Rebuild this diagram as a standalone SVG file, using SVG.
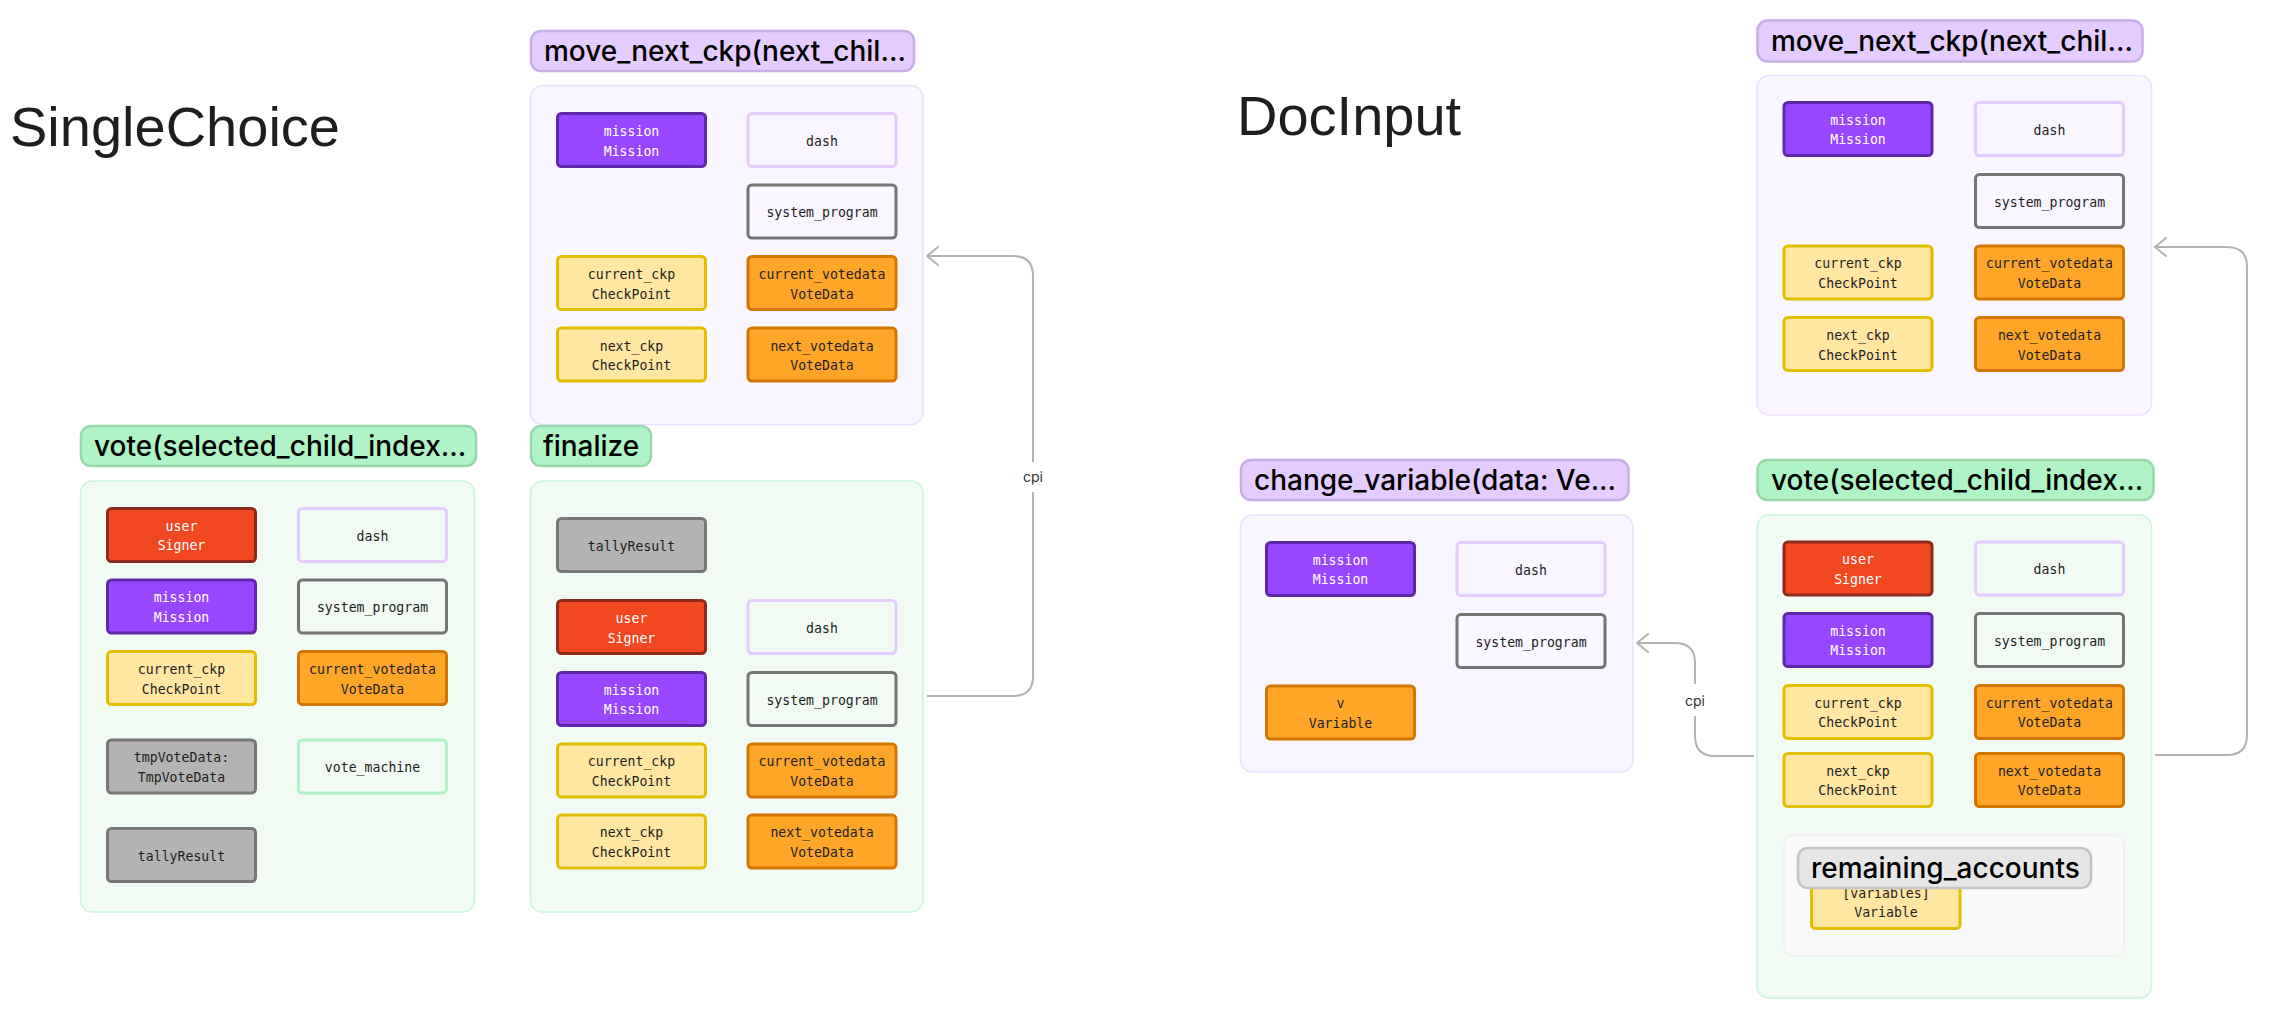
<svg xmlns="http://www.w3.org/2000/svg" width="2280" height="1026" viewBox="0 0 2280 1026">
<defs>
<style>
.title{font-family:"Liberation Sans",Arial,sans-serif;font-size:56px;fill:#1e1e1e}
.hg rect{fill:#AFF4C6;stroke:#96D8AC;stroke-width:2.5}
.hp rect{fill:#E4CCFF;stroke:#C8AEE6;stroke-width:2.5}
.hr rect{fill:#E6E6E6;stroke:#C4C4C4;stroke-width:2.5}
.ht{font-family:Inter,"Noto Sans",sans-serif;font-size:28px;font-weight:500;fill:#000}
.cg{fill:#F1FBF3;stroke:#C9F6D7;stroke-width:1.5}
.cp{fill:#F9F6FF;stroke:#EDE0FF;stroke-width:1.5}
.cr{fill:#F9F9F9;stroke:#EEEEEE;stroke-width:1.5}
.b rect{stroke-width:3}
.red rect{fill:#F24822;stroke:#8F2B1C}
.pur rect{fill:#9747FF;stroke:#5F28A8}
.yel rect{fill:#FFE6A1;stroke:#E2BE00}
.ora rect{fill:#FFA629;stroke:#D47500}
.gry rect{fill:#B3B3B3;stroke:#777777}
.lp rect{fill:none;stroke:#E4CCFF}
.sp rect{fill:none;stroke:#757575}
.lg rect{fill:none;stroke:#AFF4C6}
.b text{font-family:"DejaVu Sans Mono","Liberation Mono",monospace;font-size:13.2px;text-anchor:middle;fill:#1e1e1e}
.red text,.pur text{fill:#FFFFFF}
.conn path{fill:none;stroke:#B3B3B3;stroke-width:2}
.lbl{font-family:Inter,"Noto Sans",sans-serif;font-size:14px;fill:#333333;text-anchor:middle}
</style>
<marker id="arr" markerUnits="userSpaceOnUse" markerWidth="24" markerHeight="24" viewBox="-14 -12 16 24" refX="0" refY="0" orient="auto">
<path d="M-11,-9 L0,0 L-11,9" fill="none" stroke="#B3B3B3" stroke-width="2" stroke-linecap="round" stroke-linejoin="round"/>
</marker>
</defs>
<rect x="0" y="0" width="2280" height="1026" fill="#FFFFFF"/>

<text class="title" x="10" y="146">SingleChoice</text>
<text class="title" x="1237" y="135">DocInput</text>

<!-- ===== SingleChoice: move_next_ckp ===== -->
<g id="sc-move-header" class="hp"><rect x="531" y="31" width="383" height="40" rx="10"/><text class="ht" x="544" y="61">move_next_ckp(next_chil...</text></g>
<g id="sc-move">
<rect class="cp" x="530.5" y="85.5" width="392.5" height="339" rx="12"/>
<g id="sc-move-mission" class="b pur"><rect x="557.5" y="113.5" width="148" height="53" rx="4"/><text x="631.5" y="136">mission</text><text x="631.5" y="155.5">Mission</text></g>
<g id="sc-move-dash" class="b lp"><rect x="748" y="113.5" width="148" height="53" rx="4"/><text x="822" y="145.5">dash</text></g>
<g id="sc-move-system" class="b sp"><rect x="748" y="185" width="148" height="53" rx="4"/><text x="822" y="217">system_program</text></g>
<g id="sc-move-cckp" class="b yel"><rect x="557.5" y="256.5" width="148" height="53" rx="4"/><text x="631.5" y="279">current_ckp</text><text x="631.5" y="298.5">CheckPoint</text></g>
<g id="sc-move-cvd" class="b ora"><rect x="748" y="256.5" width="148" height="53" rx="4"/><text x="822" y="279">current_votedata</text><text x="822" y="298.5">VoteData</text></g>
<g id="sc-move-nckp" class="b yel"><rect x="557.5" y="328" width="148" height="53" rx="4"/><text x="631.5" y="350.5">next_ckp</text><text x="631.5" y="370">CheckPoint</text></g>
<g id="sc-move-nvd" class="b ora"><rect x="748" y="328" width="148" height="53" rx="4"/><text x="822" y="350.5">next_votedata</text><text x="822" y="370">VoteData</text></g>
</g>

<!-- ===== SingleChoice: vote ===== -->
<g id="sc-vote-header" class="hg"><rect x="81" y="426" width="395" height="40" rx="10"/><text class="ht" x="94" y="456">vote(selected_child_index...</text></g>
<g id="sc-vote">
<rect class="cg" x="80.5" y="481" width="394" height="431" rx="12"/>
<g id="sc-vote-user" class="b red"><rect x="107.5" y="508.5" width="148" height="53" rx="4"/><text x="181.5" y="530.7">user</text><text x="181.5" y="550.3">Signer</text></g>
<g id="sc-vote-dash" class="b lp"><rect x="298.5" y="508.5" width="148" height="53" rx="4"/><text x="372.5" y="540.5">dash</text></g>
<g id="sc-vote-mission" class="b pur"><rect x="107.5" y="580" width="148" height="53" rx="4"/><text x="181.5" y="602.3">mission</text><text x="181.5" y="621.8">Mission</text></g>
<g id="sc-vote-system" class="b sp"><rect x="298.5" y="580" width="148" height="53" rx="4"/><text x="372.5" y="612">system_program</text></g>
<g id="sc-vote-cckp" class="b yel"><rect x="107.5" y="651.5" width="148" height="53" rx="4"/><text x="181.5" y="674">current_ckp</text><text x="181.5" y="693.5">CheckPoint</text></g>
<g id="sc-vote-cvd" class="b ora"><rect x="298.5" y="651.5" width="148" height="53" rx="4"/><text x="372.5" y="674">current_votedata</text><text x="372.5" y="693.5">VoteData</text></g>
<g id="sc-vote-tmp" class="b gry"><rect x="107.5" y="740" width="148" height="53" rx="4"/><text x="181.5" y="762.3">tmpVoteData:</text><text x="181.5" y="781.8">TmpVoteData</text></g>
<g id="sc-vote-machine" class="b lg"><rect x="298.5" y="740" width="148" height="53" rx="4"/><text x="372.5" y="772">vote_machine</text></g>
<g id="sc-vote-tally" class="b gry"><rect x="107.5" y="828.5" width="148" height="53" rx="4"/><text x="181.5" y="860.5">tallyResult</text></g>
</g>

<!-- ===== SingleChoice: finalize ===== -->
<g id="sc-fin-header" class="hg"><rect x="531" y="426" width="120" height="40" rx="10"/><text class="ht" x="543" y="456">finalize</text></g>
<g id="sc-fin">
<rect class="cg" x="530.5" y="481" width="392.5" height="431" rx="12"/>
<g id="sc-fin-tally" class="b gry"><rect x="557.5" y="518.5" width="148" height="53" rx="4"/><text x="631.5" y="550.5">tallyResult</text></g>
<g id="sc-fin-user" class="b red"><rect x="557.5" y="600.5" width="148" height="53" rx="4"/><text x="631.5" y="623">user</text><text x="631.5" y="642.5">Signer</text></g>
<g id="sc-fin-dash" class="b lp"><rect x="748" y="600.5" width="148" height="53" rx="4"/><text x="822" y="632.5">dash</text></g>
<g id="sc-fin-mission" class="b pur"><rect x="557.5" y="672.5" width="148" height="53" rx="4"/><text x="631.5" y="694.7">mission</text><text x="631.5" y="714.2">Mission</text></g>
<g id="sc-fin-system" class="b sp"><rect x="748" y="672.5" width="148" height="53" rx="4"/><text x="822" y="704.5">system_program</text></g>
<g id="sc-fin-cckp" class="b yel"><rect x="557.5" y="744" width="148" height="53" rx="4"/><text x="631.5" y="766.3">current_ckp</text><text x="631.5" y="785.8">CheckPoint</text></g>
<g id="sc-fin-cvd" class="b ora"><rect x="748" y="744" width="148" height="53" rx="4"/><text x="822" y="766.3">current_votedata</text><text x="822" y="785.8">VoteData</text></g>
<g id="sc-fin-nckp" class="b yel"><rect x="557.5" y="815" width="148" height="53" rx="4"/><text x="631.5" y="837.3">next_ckp</text><text x="631.5" y="856.8">CheckPoint</text></g>
<g id="sc-fin-nvd" class="b ora"><rect x="748" y="815" width="148" height="53" rx="4"/><text x="822" y="837.3">next_votedata</text><text x="822" y="856.8">VoteData</text></g>
</g>

<!-- ===== DocInput: move_next_ckp ===== -->
<g id="di-move-header" class="hp"><rect x="1757.5" y="20.5" width="385" height="41" rx="10"/><text class="ht" x="1771" y="50.5">move_next_ckp(next_chil...</text></g>
<g id="di-move">
<rect class="cp" x="1757" y="75.5" width="394.5" height="339.5" rx="12"/>
<g id="di-move-mission" class="b pur"><rect x="1784" y="102.5" width="148" height="53" rx="4"/><text x="1858" y="124.7">mission</text><text x="1858" y="144.2">Mission</text></g>
<g id="di-move-dash" class="b lp"><rect x="1975.5" y="102.5" width="148" height="53" rx="4"/><text x="2049.5" y="134.5">dash</text></g>
<g id="di-move-system" class="b sp"><rect x="1975.5" y="174.5" width="148" height="53" rx="4"/><text x="2049.5" y="206.5">system_program</text></g>
<g id="di-move-cckp" class="b yel"><rect x="1784" y="246" width="148" height="53" rx="4"/><text x="1858" y="268.3">current_ckp</text><text x="1858" y="287.8">CheckPoint</text></g>
<g id="di-move-cvd" class="b ora"><rect x="1975.5" y="246" width="148" height="53" rx="4"/><text x="2049.5" y="268.3">current_votedata</text><text x="2049.5" y="287.8">VoteData</text></g>
<g id="di-move-nckp" class="b yel"><rect x="1784" y="317.5" width="148" height="53" rx="4"/><text x="1858" y="340">next_ckp</text><text x="1858" y="359.5">CheckPoint</text></g>
<g id="di-move-nvd" class="b ora"><rect x="1975.5" y="317.5" width="148" height="53" rx="4"/><text x="2049.5" y="340">next_votedata</text><text x="2049.5" y="359.5">VoteData</text></g>
</g>

<!-- ===== DocInput: change_variable ===== -->
<g id="di-cv-header" class="hp"><rect x="1241" y="460" width="387.5" height="40" rx="10"/><text class="ht" x="1254" y="490">change_variable(data: Ve...</text></g>
<g id="di-cv">
<rect class="cp" x="1240.5" y="515" width="392.5" height="257" rx="12"/>
<g id="di-cv-mission" class="b pur"><rect x="1266.5" y="542.5" width="148" height="53" rx="4"/><text x="1340.5" y="564.7">mission</text><text x="1340.5" y="584.2">Mission</text></g>
<g id="di-cv-dash" class="b lp"><rect x="1457" y="542.5" width="148" height="53" rx="4"/><text x="1531" y="574.5">dash</text></g>
<g id="di-cv-system" class="b sp"><rect x="1457" y="614.5" width="148" height="53" rx="4"/><text x="1531" y="646.5">system_program</text></g>
<g id="di-cv-v" class="b ora"><rect x="1266.5" y="686" width="148" height="53" rx="4"/><text x="1340.5" y="708.3">v</text><text x="1340.5" y="727.8">Variable</text></g>
</g>

<!-- ===== DocInput: vote ===== -->
<g id="di-vote-header" class="hg"><rect x="1757.5" y="460" width="396" height="40" rx="10"/><text class="ht" x="1771" y="490">vote(selected_child_index...</text></g>
<g id="di-vote">
<rect class="cg" x="1757" y="515" width="394.5" height="483" rx="12"/>
<g id="di-vote-user" class="b red"><rect x="1784" y="542" width="148" height="53" rx="4"/><text x="1858" y="564.3">user</text><text x="1858" y="583.8">Signer</text></g>
<g id="di-vote-dash" class="b lp"><rect x="1975.5" y="542" width="148" height="53" rx="4"/><text x="2049.5" y="574">dash</text></g>
<g id="di-vote-mission" class="b pur"><rect x="1784" y="613.5" width="148" height="53" rx="4"/><text x="1858" y="635.8">mission</text><text x="1858" y="655.3">Mission</text></g>
<g id="di-vote-system" class="b sp"><rect x="1975.5" y="613.5" width="148" height="53" rx="4"/><text x="2049.5" y="645.5">system_program</text></g>
<g id="di-vote-cckp" class="b yel"><rect x="1784" y="685.5" width="148" height="53" rx="4"/><text x="1858" y="707.8">current_ckp</text><text x="1858" y="727.3">CheckPoint</text></g>
<g id="di-vote-cvd" class="b ora"><rect x="1975.5" y="685.5" width="148" height="53" rx="4"/><text x="2049.5" y="707.8">current_votedata</text><text x="2049.5" y="727.3">VoteData</text></g>
<g id="di-vote-nckp" class="b yel"><rect x="1784" y="753.5" width="148" height="53" rx="4"/><text x="1858" y="775.8">next_ckp</text><text x="1858" y="795.3">CheckPoint</text></g>
<g id="di-vote-nvd" class="b ora"><rect x="1975.5" y="753.5" width="148" height="53" rx="4"/><text x="2049.5" y="775.8">next_votedata</text><text x="2049.5" y="795.3">VoteData</text></g>
<g id="di-vote-remaining">
<rect class="cr" x="1784" y="835" width="340" height="121" rx="10"/>
<g id="di-vote-variables" class="b yel"><rect x="1811.5" y="875.5" width="148.5" height="53" rx="4"/><text x="1886" y="897.8">[variables]</text><text x="1886" y="917.3">Variable</text></g>
<g id="di-vote-remaining-header" class="hr"><rect x="1798" y="848" width="293" height="40" rx="10"/><text class="ht" x="1811" y="878">remaining_accounts</text></g>
</g>
</g>

<!-- ===== connectors ===== -->
<g id="connectors" class="conn">
<path d="M927,696 H1013 Q1033,696 1033,676 V276 Q1033,256 1013,256 H927" marker-end="url(#arr)"/>
<rect x="1019" y="462" width="28" height="30" fill="#FFFFFF"/>
<text class="lbl" x="1033" y="481.5">cpi</text>
<path d="M2155,755 H2227 Q2247,755 2247,735 V267 Q2247,247 2227,247 H2155" marker-end="url(#arr)"/>
<path d="M1754,756 H1715 Q1695,756 1695,736 V663 Q1695,643 1675,643 H1637" marker-end="url(#arr)"/>
<rect x="1681" y="684" width="28" height="32" fill="#FFFFFF"/>
<text class="lbl" x="1695" y="705.5">cpi</text>
</g>
</svg>
